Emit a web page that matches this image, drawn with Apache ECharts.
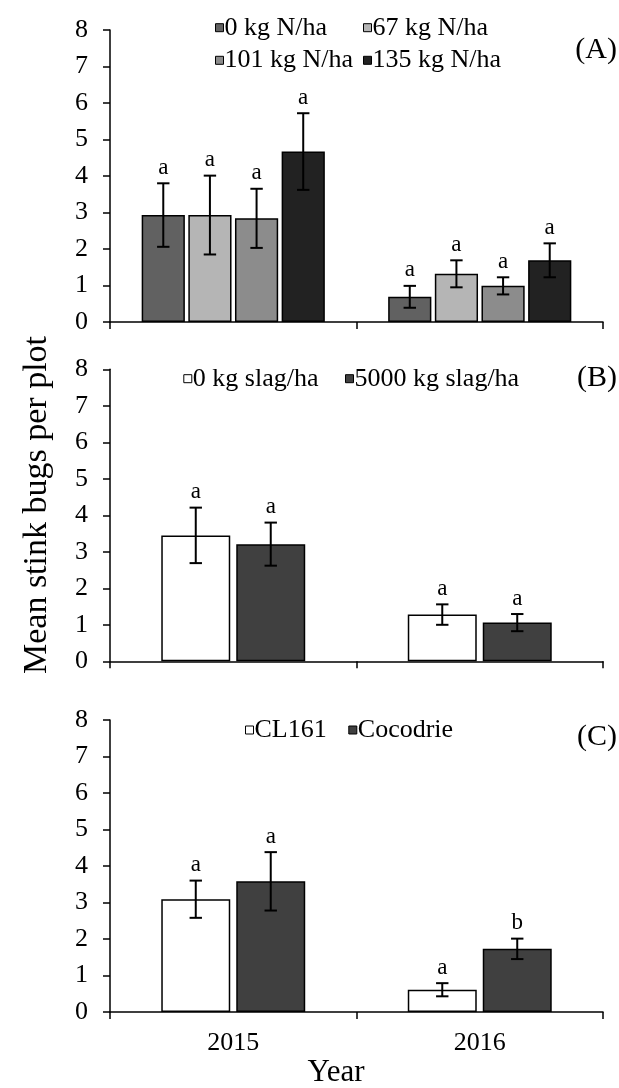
<!DOCTYPE html>
<html>
<head>
<meta charset="utf-8">
<script src="https://cdn.jsdelivr.net/npm/echarts@6/dist/echarts.min.js"></script>
<style>
  html, body { margin: 0; padding: 0; background: #fff; }
  #chart { width: 619px; height: 1088px; }
</style>
</head>
<body>
<div id="chart"></div>
<script>
// ---- data ----
const years = ['2015', '2016'];
const yTickLabels = ['0', '1', '2', '3', '4', '5', '6', '7', '8'];

// (A) nitrogen rate
const nitrogenLevels = ['0 kg N/ha', '67 kg N/ha', '101 kg N/ha', '135 kg N/ha'];
const nitrogenMeans = [[2.93, 0.69], [2.93, 1.32], [2.84, 0.99], [4.67, 1.69]];
const nitrogenErrors = [[0.87, 0.30], [1.08, 0.37], [0.81, 0.235], [1.05, 0.465]];
const nitrogenLetters = [['a', 'a'], ['a', 'a'], ['a', 'a'], ['a', 'a']];

// (B) silicon slag
const slagLevels = ['0 kg slag/ha', '5000 kg slag/ha'];
const slagMeans = [[3.45, 1.28], [3.21, 1.06]];
const slagErrors = [[0.76, 0.28], [0.59, 0.235]];
const slagLetters = [['a', 'a'], ['a', 'a']];

// (C) cultivar
const cultivars = ['CL161', 'Cocodrie'];
const cultivarMeans = [[3.09, 0.61], [3.58, 1.73]];
const cultivarErrors = [[0.51, 0.18], [0.80, 0.28]];
const cultivarLetters = [['a', 'a'], ['a', 'b']];

// ---- styling ----
const FONT = '"Liberation Serif", "Times New Roman", serif';
const nitrogenColors = ['#616161', '#b5b5b5', '#8c8c8c', '#222222'];
const twoColors = ['#ffffff', '#404040'];

const panels = [
  { tag: '(A)', top: 30, levels: nitrogenLevels, means: nitrogenMeans, errors: nitrogenErrors,
    letters: nitrogenLetters, colors: nitrogenColors, catGap: 0.257, barGap: 0.08,
    legendPos: [[215, 25.7], [363, 25.7], [215, 58.3], [363, 58.3]], tagY: 50 },
  { tag: '(B)', top: 369.3, levels: slagLevels, means: slagMeans, errors: slagErrors,
    letters: slagLetters, colors: twoColors, catGap: 0.416, barGap: 0.087,
    legendPos: [[183.3, 376.7], [345, 376.7]], tagY: 378 },
  { tag: '(C)', top: 720, levels: cultivars, means: cultivarMeans, errors: cultivarErrors,
    letters: cultivarLetters, colors: twoColors, catGap: 0.416, barGap: 0.087,
    legendPos: [[245, 728], [348.3, 728]], tagY: 736.7, showYears: true }
];

const PLOT_H = 292;
const grids = [], xAxes = [], yAxes = [], series = [], legends = [], graphics = [];

panels.forEach((p, pi) => {
  grids.push({ left: 110, right: 16, top: p.top, height: PLOT_H });
  xAxes.push({
    type: 'category', gridIndex: pi, data: years, boundaryGap: true,
    axisLine: { lineStyle: { color: '#000', width: 1.5 } },
    axisTick: { show: true, length: 7, lineStyle: { color: '#000', width: 1.5 } },
    axisLabel: { show: !!p.showYears, color: '#000', fontFamily: FONT, fontSize: 26, margin: 18 },
    splitLine: { show: false }
  });
  yAxes.push({
    type: 'value', gridIndex: pi, min: 0, max: 8, interval: 1,
    axisLine: { show: true, lineStyle: { color: '#000', width: 1.5 } },
    axisTick: { show: true, length: 7, lineStyle: { color: '#000', width: 1.5 } },
    axisLabel: { color: '#000', fontFamily: FONT, fontSize: 26, margin: 22,
      formatter: (v) => yTickLabels[Math.round(v)] },
    splitLine: { show: false }
  });

  const n = p.levels.length;
  p.levels.forEach((name, i) => {
    series.push({
      type: 'bar', name: name, xAxisIndex: pi, yAxisIndex: pi,
      data: p.means[i],
      barCategoryGap: (p.catGap * 100) + '%',
      barGap: (p.barGap * 100) + '%',
      itemStyle: { color: p.colors[i], borderColor: '#000', borderWidth: 1.5 },
      emphasis: { disabled: true },
      animation: false
    });
    // standard-error whiskers and significance letters for this level
    series.push({
      type: 'custom', name: name + ' SE', xAxisIndex: pi, yAxisIndex: pi,
      data: years.map((_, j) => [j, p.means[i][j], p.errors[i][j]]),
      encode: { x: 0, y: 1 },
      silent: true, animation: false, z: 5,
      renderItem: (params, api) => {
        const cat = api.value(0), mean = api.value(1), err = api.value(2);
        const band = api.size([1, 0])[0];
        const groupW = band * (1 - p.catGap);
        const barW = groupW / (n + (n - 1) * p.barGap);
        const x = api.coord([cat, 0])[0] - groupW / 2 + i * barW * (1 + p.barGap) + barW / 2;
        const yHi = api.coord([cat, mean + err])[1];
        const yLo = api.coord([cat, mean - err])[1];
        const half = 6.2;
        const st = { stroke: '#000', lineWidth: 2 };
        return {
          type: 'group',
          children: [
            { type: 'line', shape: { x1: x, y1: yHi, x2: x, y2: yLo }, style: st },
            { type: 'line', shape: { x1: x - half, y1: yHi, x2: x + half, y2: yHi }, style: st },
            { type: 'line', shape: { x1: x - half, y1: yLo, x2: x + half, y2: yLo }, style: st },
            { type: 'text', x: x, y: yHi - 4,
              style: { text: p.letters[i][params.dataIndex], fill: '#000', fontFamily: FONT,
                fontSize: 23, align: 'center', verticalAlign: 'bottom' } }
          ]
        };
      }
    });
    legends.push({
      data: [name], left: p.legendPos[i][0], top: p.legendPos[i][1] - 11,
      padding: 0, icon: 'rect', itemWidth: 8, itemHeight: 8, selectedMode: false,
      itemStyle: { borderColor: '#000', borderWidth: 1 },
      textStyle: { color: '#000', fontFamily: FONT, fontSize: 26, lineHeight: 22, padding: [0, 0, 0, -4] }
    });
  });

  graphics.push({
    type: 'text', right: 2, top: p.tagY - 15,
    style: { text: p.tag, fill: '#000', fontFamily: FONT, fontSize: 30 }
  });
});

// shared axis titles
graphics.push({
  type: 'text', x: 37, y: 505, rotation: Math.PI / 2,
  style: { text: 'Mean stink bugs per plot', fill: '#000', fontFamily: FONT, fontSize: 34,
    align: 'center', verticalAlign: 'middle' }
});
graphics.push({
  type: 'text', x: 336, y: 1073,
  style: { text: 'Year', fill: '#000', fontFamily: FONT, fontSize: 31,
    align: 'center', verticalAlign: 'middle' }
});

const chart = echarts.init(document.getElementById('chart'), null, { renderer: 'canvas' });
chart.setOption({
  backgroundColor: '#fff',
  animation: false,
  grid: grids, xAxis: xAxes, yAxis: yAxes,
  legend: legends, series: series, graphic: graphics
});
</script>
</body>
</html>
